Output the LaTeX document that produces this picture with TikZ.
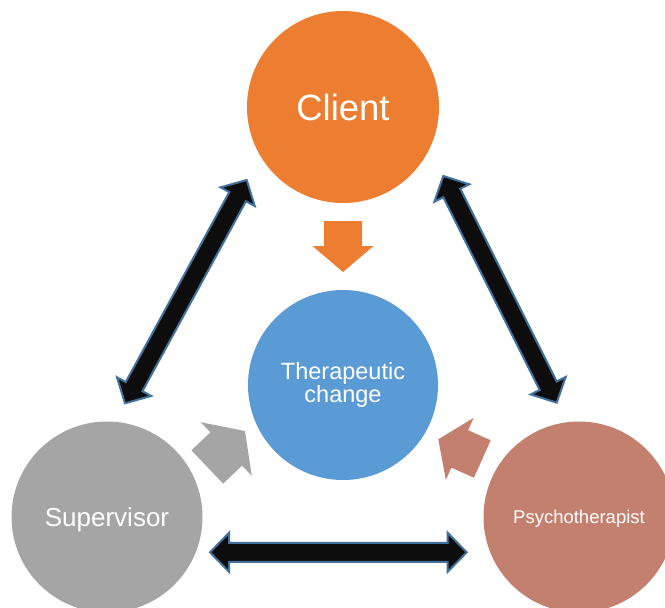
\documentclass[tikz,border=0pt]{standalone}
\usepackage{fontspec}
\setmainfont{Liberation Sans}
\usetikzlibrary{calc}

\definecolor{clientorange}{HTML}{ED7D31}
\definecolor{changeblue}{HTML}{5B9BD5}
\definecolor{supergray}{HTML}{A5A5A5}
\definecolor{therapistrose}{HTML}{C4806F}
\definecolor{linkfill}{HTML}{0D0D0D}
\definecolor{linkedge}{HTML}{41719C}

% Block arrow from tail #2 to tip #3: style #1, shaft half-width #4,
% head half-width #5, head length #6
\newcommand\sglblockarrow[6]{%
  \coordinate (ba-h) at ($(#3)!#6!(#2)$);
  \fill[#1] ($(#2)!#4!90:(#3)$) -- ($(ba-h)!#4!-90:(#2)$) -- ($(ba-h)!#5!-90:(#2)$)
    -- (#3) -- ($(ba-h)!#5!90:(#2)$) -- ($(ba-h)!#4!90:(#2)$)
    -- ($(#2)!#4!-90:(#3)$) -- cycle;}

% Double-headed block arrow between tips #2 and #3, same parameters
\newcommand\dblblockarrow[6]{%
  \coordinate (da-a) at ($(#2)!#6!(#3)$);
  \coordinate (da-b) at ($(#3)!#6!(#2)$);
  \filldraw[#1] (#2) -- ($(da-a)!#5!90:(#3)$) -- ($(da-a)!#4!90:(#3)$)
    -- ($(da-b)!#4!-90:(#2)$) -- ($(da-b)!#5!-90:(#2)$) -- (#3)
    -- ($(da-b)!#5!90:(#2)$) -- ($(da-b)!#4!90:(#2)$)
    -- ($(da-a)!#4!-90:(#3)$) -- ($(da-a)!#5!-90:(#3)$) -- cycle;}

\tikzset{
  role/.style={circle, inner sep=0pt, text=white, align=center},
  link/.style={fill=linkfill, draw=linkedge, line width=2pt, line join=miter},
}

\begin{document}
\begin{tikzpicture}[x=1pt, y=-1pt]
  \useasboundingbox (0,0) rectangle (665,608);
  \clip (0,0) rectangle (665,608);

  % the four participants
  \node[role, minimum size=192pt, fill=clientorange,
        font=\fontsize{36.5}{40}\selectfont] (client) at (343,107) {Client};
  \node[role, minimum size=190pt, fill=changeblue,
        font=\fontsize{23.5}{23.5}\selectfont] (change) at (343,385) {Therapeutic\\change};
  \node[role, minimum size=191pt, fill=supergray, text depth=0pt,
        font=\fontsize{26}{30}\selectfont] (supervisor) at (107,517) {Supervisor};
  \node[role, minimum size=191pt, fill=therapistrose, text depth=0pt,
        font=\fontsize{18.5}{22}\selectfont] (therapist) at (579,517) {Psychotherapist};

  % ends of the block arrows
  \coordinate (cl-tail) at (343,221);
  \coordinate (cl-tip)  at (343,272);
  \coordinate (su-tail) at (207.3,467);
  \coordinate (su-tip)  at (245,431);
  \coordinate (th-tail) at (482.3,459);
  \coordinate (th-tip)  at (438.3,439.3);

  % influences on the therapeutic change
  \sglblockarrow{clientorange}{cl-tail}{cl-tip}{19pt}{30.5pt}{26pt}
  \sglblockarrow{supergray}{su-tail}{su-tip}{23pt}{37pt}{26pt}
  \sglblockarrow{therapistrose}{th-tail}{th-tip}{20.5pt}{34pt}{23.5pt}

  % ends of the two-way links
  \coordinate (cs-a) at (246.7,180);
  \coordinate (cs-b) at (125,403.3);
  \coordinate (ct-a) at (443.3,176);
  \coordinate (ct-b) at (556.7,402.7);
  \coordinate (st-a) at (210,552.3);
  \coordinate (st-b) at (466.7,552.3);

  % two-way links between the participants
  \dblblockarrow{link}{cs-a}{cs-b}{9.5pt}{19.5pt}{19pt}
  \dblblockarrow{link}{ct-a}{ct-b}{9.5pt}{19.5pt}{19pt}
  \dblblockarrow{link}{st-a}{st-b}{9.5pt}{19.5pt}{19pt}
\end{tikzpicture}
\end{document}
